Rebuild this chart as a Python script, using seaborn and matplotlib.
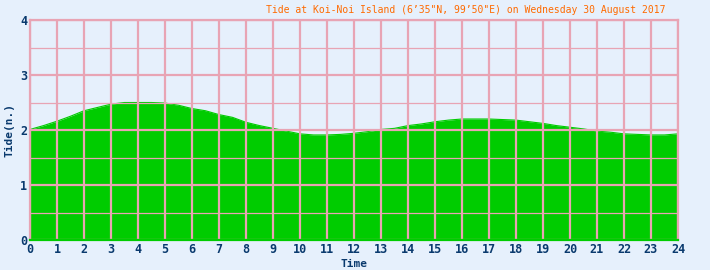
import matplotlib
matplotlib.use("Agg")
import matplotlib.pyplot as plt
import seaborn as sns
import numpy as np
import pandas as pd

hours = [0, 0.5, 1, 1.5, 2, 2.5, 3, 3.5, 4, 4.5, 5, 5.5, 6, 6.5, 7, 7.5, 8, 8.5, 9, 9.5, 10, 10.5,
         11, 11.5, 12, 12.5, 13, 13.5, 14, 14.5, 15, 15.5, 16, 16.5, 17, 17.5, 18, 18.5, 19, 19.5,
         20, 20.5, 21, 21.5, 22, 22.5, 23, 23.5, 24]
tide = [2.01, 2.08, 2.16, 2.25, 2.35, 2.41, 2.47, 2.50, 2.50, 2.50, 2.49, 2.45, 2.39, 2.35, 2.28,
        2.23, 2.14, 2.08, 2.03, 1.98, 1.93, 1.91, 1.91, 1.92, 1.94, 1.97, 2.01, 2.03, 2.08, 2.11,
        2.15, 2.18, 2.20, 2.20, 2.20, 2.19, 2.18, 2.15, 2.12, 2.08, 2.05, 2.02, 1.98, 1.96, 1.93,
        1.92, 1.91, 1.91, 1.93]
x_ticks = list(range(0, 25))
y_ticks = [0, 1, 2, 3, 4]
title = "Tide at Koi-Noi Island (6\u201935\"N, 99\u201950\"E) on Wednesday 30 August 2017"

bg = "#e6f0fc"
grid_c = "#e8a4b4"
green = "#00cc00"
navy = "#0a3a6e"

sns.set_style("white")
plt.rcParams['font.family'] = ['DejaVu Sans Mono', 'DejaVu Sans']

df = pd.DataFrame({"Time": hours, "Tide": tide})

fig = plt.figure(figsize=(7.1, 2.7), dpi=100, facecolor=bg)
ax = fig.add_axes([30 / 710, 30 / 270, 648 / 710, 220 / 270])
ax.set_facecolor(bg)

sns.lineplot(data=df, x="Time", y="Tide", ax=ax, color=green, linewidth=0.8, zorder=2)
ax.fill_between(df["Time"], 0, df["Tide"], color=green, linewidth=0, zorder=2)

ax.set_xlim(0, 24)
ax.set_ylim(0, 4)
ax.set_xticks(x_ticks)
ax.set_yticks(y_ticks)
ax.set_yticks([0.5, 1.5, 2.5, 3.5], minor=True)
ax.grid(which="major", axis="both", color=grid_c, linewidth=1.6, zorder=3)
ax.grid(which="minor", axis="y", color=grid_c, linewidth=0.9, zorder=3)
ax.set_axisbelow(False)
for s in ax.spines.values():
    s.set_color(grid_c)
    s.set_linewidth(1.6)
    s.set_zorder(4)
ax.spines["bottom"].set_color(green)

ax.tick_params(axis="both", length=0, labelsize=8.5, labelcolor=navy, pad=2)
for lbl in ax.get_xticklabels() + ax.get_yticklabels():
    lbl.set_fontweight("bold")

ax.set_xlabel("Time", fontsize=8, fontweight="bold", color=navy, labelpad=2)
ax.set_ylabel("Tide(n.)", fontsize=8, fontweight="bold", color=navy, labelpad=4)
fig.text(666 / 710, 1 - 10 / 270, title, ha="right", va="center", fontsize=7, color="#ff6a00")

fig.savefig("out.png", dpi=100, facecolor=bg)
